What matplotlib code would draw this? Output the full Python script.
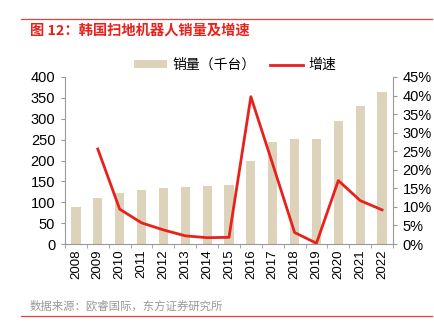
import numpy as np
import matplotlib
matplotlib.use("Agg")
import matplotlib.pyplot as plt

plt.rcParams['font.family'] = ['Liberation Sans', 'Noto Sans CJK SC']

years = ['2008', '2009', '2010', '2011', '2012', '2013', '2014', '2015',
         '2016', '2017', '2018', '2019', '2020', '2021', '2022']
sales = [88, 110, 122, 129, 134, 137, 139, 141, 199, 244, 251, 252, 295, 331, 364]
growth = [None, 25.6, 9.4, 5.7, 3.8, 2.2, 1.7, 1.8, 39.7, 21.5, 3.1, 0.2, 17.1, 11.7, 9.2]

bar_col = '#DDD3BB'
red = '#E8211C'

fig = plt.figure(figsize=(4.35, 3.32), dpi=100)
ax = fig.add_axes([65/435, 1 - 244/332, (393-65)/435, (244-77)/332])
x = np.arange(len(years))
ax.bar(x, sales, width=0.42, color=bar_col, label='销量（千台）', zorder=2)
ax.set_ylim(0, 400)
ax.set_yticks(np.arange(0, 401, 50))
ax.set_xlim(-0.5, len(years) - 0.5)
ax.set_xticks(x)
ax.set_xticklabels(years, rotation=90, fontsize=9.5)
ax.set_xticks(np.arange(-0.5, len(years), 1), minor=True)
ax.tick_params(axis='x', which='major', length=0, pad=4)
ax.tick_params(axis='x', which='minor', length=3, color='#999999', direction='out')
ax.tick_params(axis='y', length=3, color='#999999', labelsize=10.5, pad=4)

ax2 = ax.twinx()
gx = [i for i, g in enumerate(growth) if g is not None]
gy = [g for g in growth if g is not None]
ax2.plot(gx, gy, color=red, lw=2, label='增速', zorder=3)
ax2.set_ylim(0, 45)
ax2.set_yticks(np.arange(0, 46, 5))
ax2.set_yticklabels([f'{v}%' for v in range(0, 46, 5)])
ax2.tick_params(axis='y', length=3, color='#999999', labelsize=10.5, pad=4)

for a in (ax, ax2):
    a.spines['top'].set_visible(False)
    for s in ('left', 'right', 'bottom'):
        a.spines[s].set_color('#999999')
        a.spines[s].set_linewidth(0.8)
ax.spines['right'].set_visible(False)
ax2.spines['left'].set_visible(False)
ax2.spines['bottom'].set_visible(False)

h1, l1 = ax.get_legend_handles_labels()
h2, l2 = ax2.get_legend_handles_labels()
fig.legend(h1 + h2, l1 + l2, loc='center', bbox_to_anchor=(235/435, 1 - 65/332),
           ncol=2, frameon=False, fontsize=10, handlelength=2.4,
           handleheight=0.5, columnspacing=1.0, handletextpad=0.4)

# header and footer
fig.add_artist(plt.Line2D([21/435, 432/435], [1 - 19/332] * 2, color='#E8413C', lw=0.9))
fig.text(30/435, 1 - 31/332, '图 12：韩国扫地机器人销量及增速', color='#E8211C',
         fontsize=10.3, fontweight='bold', va='center', ha='left',
         family=['Noto Sans CJK SC'])
fig.text(30/435, 1 - 306/332, '数据来源：欧睿国际，东方证券研究所', color='#999999',
         fontsize=8.2, va='center', ha='left', family=['Noto Sans CJK SC'])
fig.add_artist(plt.Line2D([21/435, 432/435], [1 - 316/332] * 2, color='#E8413C', lw=0.9))

fig.savefig('out.png', dpi=100)
